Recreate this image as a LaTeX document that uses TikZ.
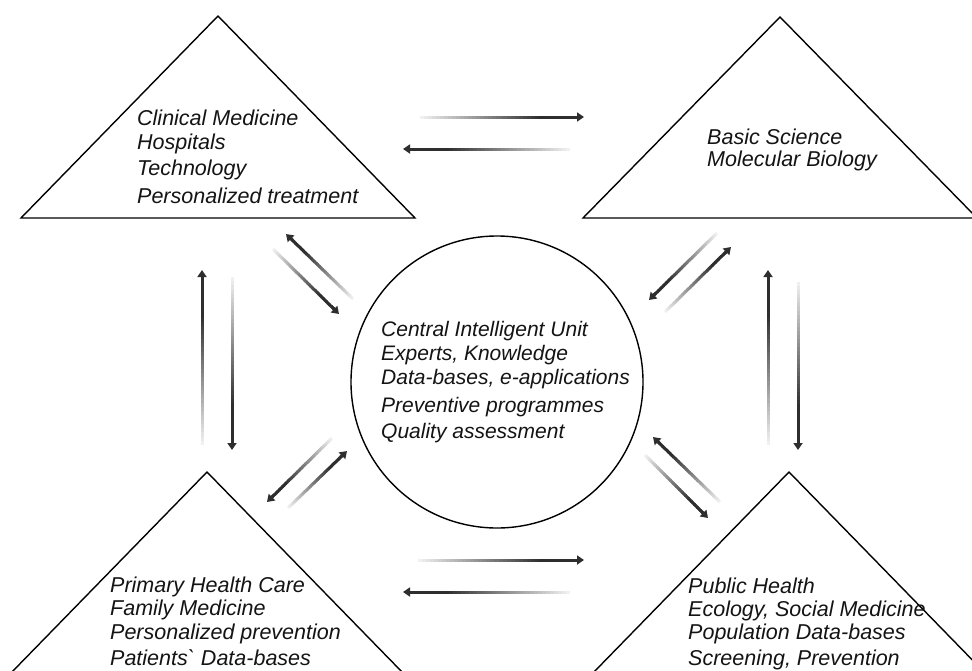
\documentclass[tikz,border=0pt]{standalone}
\usepackage{fontspec}
\setmainfont{Liberation Sans}
\usetikzlibrary{arrows.meta,calc}
\tikzset{
  shapeline/.style={line width=1.4pt, draw=black},
  lbl/.style={anchor=base west, inner sep=0pt, font=\fontsize{21.5}{24}\selectfont\itshape, text=black!92},
  clbl/.style={lbl, font=\fontsize{21}{24}\selectfont\itshape},
  gradhead/.style={line width=3pt, color=black!82, -{Triangle[length=7pt,width=9pt]}}
}
\newcommand\gradarrow[2]{%
  \path ($(#2)!5pt!(#1)$) coordinate (gaEnd);
  \foreach \k in {0,...,39}{%
    \pgfmathsetmacro\ta{\k/40}%
    \pgfmathsetmacro\tb{min(1,(\k+1.5)/40)}%
    \pgfmathsetmacro\pct{6+76*min(1,\k/30)}%
    \draw[line width=3pt, color=black!\pct] ($(#1)!\ta!(gaEnd)$) -- ($(#1)!\tb!(gaEnd)$);
  }%
  \draw[gradhead] ($(#2)!9pt!(#1)$) -- (#2);
}
\begin{document}
\begin{tikzpicture}[x=1pt,y=-1pt]
\useasboundingbox (0,0) rectangle (972,670);
\fill[white] (0,0) rectangle (972,670);
\begin{scope}
\clip (0,0) rectangle (972,670);
% triangles
\draw[shapeline] (21,218) -- (218,16) -- (415,218) -- cycle;
\draw[shapeline] (583,218) -- (780,17) -- (977,218) -- cycle;
\draw[shapeline] (10,674) -- (207,472) -- (404,674) -- cycle;
\draw[shapeline] (592,674) -- (789,472) -- (986,674) -- cycle;
\end{scope}
% central circle
\node[draw, circle, line width=1.4pt, minimum size=292pt, inner sep=0pt] (ciu) at (497,382) {};

% texts
\node[lbl] (tl1) at (137,125.7) {Clinical Medicine};
\node[lbl] (tl2) at (137,149) {Hospitals};
\node[lbl] (tl3) at (137,175.7) {Technology};
\node[lbl] (tl4) at (137,203) {Personalized treatment};

\node[lbl] (tr1) at (707,144) {Basic Science};
\node[lbl] (tr2) at (707,166.7) {Molecular Biology};

\node[clbl] (c1) at (381,336.7) {Central Intelligent Unit};
\node[clbl] (c2) at (381,360) {Experts, Knowledge};
\node[clbl] (c3) at (381,384) {Data-bases, e-applications};
\node[clbl] (c4) at (381,412.3) {Preventive programmes};
\node[clbl] (c5) at (381,438.3) {Quality assessment};

\node[lbl] (bl1) at (110,592) {Primary Health Care};
\node[lbl] (bl2) at (110,615.7) {Family Medicine};
\node[lbl] (bl3) at (110,639) {Personalized prevention};
\node[lbl] (bl4) at (110,665) {Patients\textasciigrave{} Data-bases};

\node[lbl] (br1) at (688,593) {Public Health};
\node[lbl] (br2) at (688,616) {Ecology, Social Medicine};
\node[lbl] (br3) at (688,639) {Population Data-bases};
\node[lbl] (br4) at (688,665) {Screening, Prevention};

% arrow end points (faint start s, head end e)
\coordinate (t1s) at (420,117); \coordinate (t1e) at (584,117);
\coordinate (t2s) at (570,149); \coordinate (t2e) at (403,149);
\coordinate (b1s) at (418,560); \coordinate (b1e) at (584,560);
\coordinate (b2s) at (570,592); \coordinate (b2e) at (403,592);
\coordinate (das) at (353,299); \coordinate (dae) at (286,234);
\coordinate (dbs) at (273,249); \coordinate (dbe) at (339,314);
\coordinate (dcs) at (717,233); \coordinate (dce) at (649,300);
\coordinate (dds) at (665,312); \coordinate (dde) at (731,247);
\coordinate (des) at (332,438); \coordinate (dee) at (267,502);
\coordinate (dfs) at (288,508); \coordinate (dfe) at (347,451);
\coordinate (dgs) at (720,502); \coordinate (dge) at (653,437);
\coordinate (dhs) at (645,455); \coordinate (dhe) at (708,518);
\coordinate (v1s) at (202,445); \coordinate (v1e) at (202,270);
\coordinate (v2s) at (232,277); \coordinate (v2e) at (232,450);
\coordinate (v3s) at (768,445); \coordinate (v3e) at (768,270);
\coordinate (v4s) at (798,282); \coordinate (v4e) at (798,450);

\gradarrow{t1s}{t1e}
\gradarrow{t2s}{t2e}
\gradarrow{b1s}{b1e}
\gradarrow{b2s}{b2e}
\gradarrow{das}{dae}
\gradarrow{dbs}{dbe}
\gradarrow{dcs}{dce}
\gradarrow{dds}{dde}
\gradarrow{des}{dee}
\gradarrow{dfs}{dfe}
\gradarrow{dgs}{dge}
\gradarrow{dhs}{dhe}
\gradarrow{v1s}{v1e}
\gradarrow{v2s}{v2e}
\gradarrow{v3s}{v3e}
\gradarrow{v4s}{v4e}
\end{tikzpicture}
\end{document}
